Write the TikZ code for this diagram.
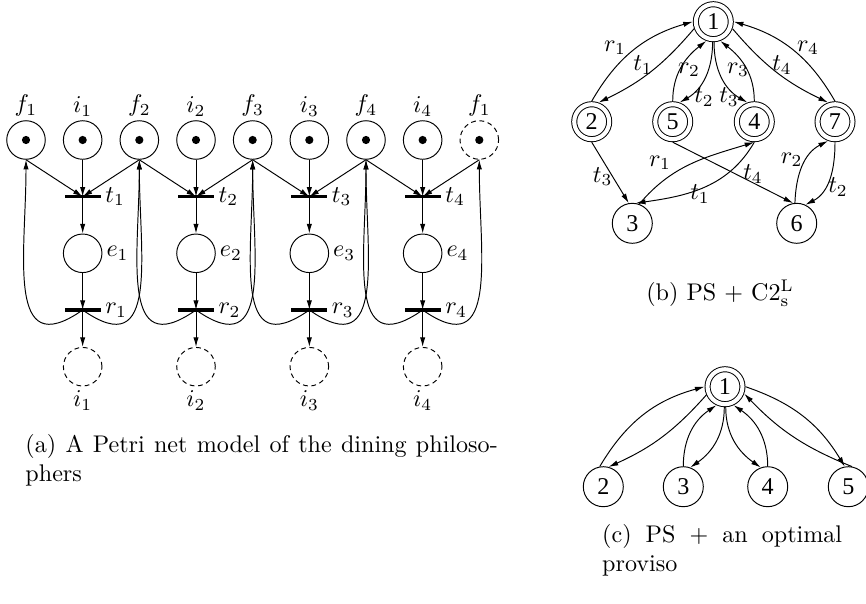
\documentclass[tikz,border=0pt]{standalone}
\usepackage{fontspec}
\newfontfamily\numfont{Liberation Serif}
\usetikzlibrary{arrows.meta}

\begin{document}
\begin{tikzpicture}[x=0.415pt, y=0.415pt,
  >={Latex[length=4pt,width=2.2pt]},
  every label/.style={inner sep=1.5pt},
  place/.style={circle, draw, minimum size=16pt, inner sep=0pt},
  tok/.style={path picture={\fill (path picture bounding box.center) circle (1.7pt);}},
  ghost/.style={dash pattern=on 2pt off 1.5pt},
  bar/.style={fill, minimum width=15pt, minimum height=1.3pt, inner sep=0pt},
  vertex/.style={circle, draw, minimum size=16.6pt, inner sep=0pt, font=\numfont},
  home/.style={vertex, minimum size=14.5pt, double, double distance=1.7pt, outer sep=1.25pt}
% coordinates are pixels of the page, y upwards
]
\useasboundingbox (0,0) rectangle (866,603);

% (a) the Petri net
\foreach \k in {1,...,4} {
  \pgfmathsetmacro\fx{26+113.33*(\k-1)}
  \pgfmathsetmacro\ix{\fx+56.67}
  \node[place, tok, label=above:$f_\k$] (f\k) at (\fx,463) {};
  \node[place, tok, label=above:$i_\k$] (i\k) at (\ix,463) {};
  \node[bar, label=right:$t_\k$] (t\k) at (\ix,406.3) {};
  \node[place, label=right:$e_\k$] (e\k) at (\ix,349.7) {};
  \node[bar, label=right:$r_\k$] (r\k) at (\ix,293) {};
  \node[place, ghost, label=below:$i_\k$] (o\k) at (\ix,236.3) {};
}
\node[place, tok, ghost, label=above:$f_1$] (f5) at (479.3,463) {};

\foreach \k in {1,...,4} {
  \pgfmathtruncatemacro\n{\k+1}
  \draw[->] (f\k.south) -- (t\k.center);
  \draw[->] (f\n.south) -- (t\k.center);
  \draw[->] (i\k) -- (t\k.center);
  \draw[->] (t\k.center) -- (e\k);
  \draw[->] (e\k) -- (r\k.center);
  \draw[->] (r\k.center) -- (o\k);
  \draw[->,looseness=1.5] (r\k.center) to[out=215,in=-90] (f\k.south);
  \draw[->,looseness=1.5] (r\k.center) to[out=-35,in=-90] (f\n.south);
}

\node[anchor=north west, text width=196pt, align=justify, inner sep=0pt] (capa)
  at (25,169) {(a) A Petri net model of the dining philoso-\linebreak phers};

% (b) the reduced state space
\node[home] (b1) at (713.3,581.3) {1};
\node[home] (b2) at (591.7,481.3) {2};
\node[home] (b5) at (672.7,481.3) {5};
\node[home] (b4) at (754.3,481.3) {4};
\node[home] (b7) at (835,481.3) {7};
\node[vertex] (b3) at (632.3,379.7) {3};
\node[vertex] (b6) at (796.7,379.7) {6};

\draw[->] (b2.north) to[bend left=22] (b1.west);
\draw[->] (b1.200) to[bend left=12] (b2.70);
\draw[->] (b5.north) to[out=90,in=218] (b1.250);
\draw[->] (b1.268) to[out=-90,in=30] (b5.70);
\draw[->] (b4.north) to[out=90,in=-38] (b1.290);
\draw[->] (b1.272) to[out=-90,in=150] (b4.110);
\draw[->] (b7.north) to[bend right=22] (b1.east);
\draw[->] (b1.-20) to[bend right=12] (b7.110);
\draw[->] (b2.south) -- (b3.100);
\draw[->] (b5.south) -- (b6.100);
\draw[->] (b3.70) to[out=50,in=197] (b4.south);
\draw[->] (b4.south) to[out=240,in=8] (b3.80);
\draw[->] (b6.95) to[out=88,in=207] (b7.250);
\draw[->] (b7.south) to[out=-90,in=27] (b6.65);

\path (615,555) node (lr1) {$r_1$};
\path (643,538) node (lt1) {$t_1$};
\path (689,533) node (lr2) {$r_2$};
\path (704,506) node (lt2) {$t_2$};
\path (738,533) node (lr3) {$r_3$};
\path (729,506) node (lt3) {$t_3$};
\path (808,555) node (lr4) {$r_4$};
\path (782,538) node (lt4) {$t_4$};
\path (602.7,426.3) node (lt3b) {$t_3$};
\path (753,429) node (lt4b) {$t_4$};
\path (660,440) node (lr1b) {$r_1$};
\path (700,409) node (lt1b) {$t_1$};
\path (791.7,443) node (lr2b) {$r_2$};
\path (838,416) node (lt2b) {$t_2$};

\node (capb) at (720,310) {(b) PS + C2$^{\mathrm{L}}_{\mathrm{s}}$};

% (c) with the proviso
\node[home] (c1) at (725,216.3) {1};
\node[vertex] (c2) at (603.3,116.3) {2};
\node[vertex] (c3) at (683.3,116.3) {3};
\node[vertex] (c4) at (767.7,116.3) {4};
\node[vertex] (c5) at (848.3,116.3) {5};

\draw[->] (c2.100) to[bend left=22] (c1.west);
\draw[->] (c1.204) to[bend left=12] (c2.75);
\draw[->] (c3.north) to[out=90,in=214] (c1.245);
\draw[->] (c1.268) to[out=-90,in=35] (c3.70);
\draw[->] (c1.272) to[out=-90,in=145] (c4.110);
\draw[->] (c4.north) to[out=90,in=-34] (c1.295);
\draw[->] (c1.east) to[bend left=20] (c5.100);
\draw[->] (c5.80) to[bend left=12] (c1.-20);

\node[anchor=north west, text width=99.6pt, align=justify, inner sep=0pt] (capc)
  at (601.7,79) {(c) PS + an optimal\linebreak proviso};
\end{tikzpicture}
\end{document}
